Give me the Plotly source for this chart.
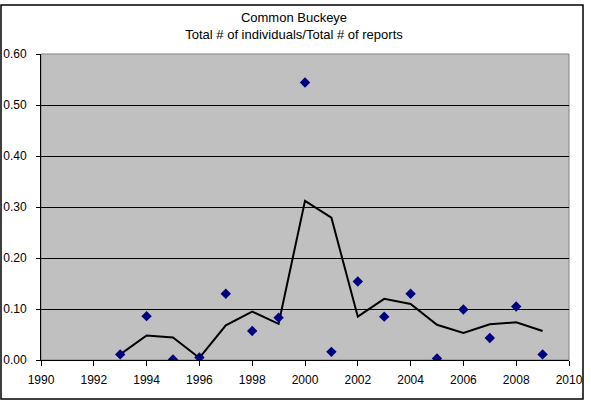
import plotly.graph_objects as go

# values
years = [1993, 1994, 1995, 1996, 1997, 1998, 1999, 2000, 2001,
         2002, 2003, 2004, 2005, 2006, 2007, 2008, 2009]
ratio = [0.011, 0.086, 0.001, 0.005, 0.130, 0.057, 0.083, 0.544, 0.016,
         0.154, 0.085, 0.130, 0.003, 0.099, 0.043, 0.105, 0.011]
trend = [0.011, 0.048, 0.044, 0.004, 0.068, 0.095, 0.071, 0.312, 0.279,
         0.085, 0.120, 0.110, 0.069, 0.053, 0.070, 0.074, 0.057]

x_ticks = list(range(1990, 2011, 2))
y_ticks = [0.0, 0.1, 0.2, 0.3, 0.4, 0.5, 0.6]

font = 'Liberation Sans, Arial, sans-serif'

fig = go.Figure()
fig.add_trace(go.Scatter(x=years, y=trend, mode='lines',
                         line={'color': 'black', 'width': 2},
                         showlegend=False, hoverinfo='skip'))
fig.add_trace(go.Scatter(x=years, y=ratio, mode='markers',
                         marker={'symbol': 'diamond', 'size': 8, 'color': '#000080'},
                         showlegend=False))

# plot area is 528 x 306 px
pw, ph = 528, 306
fig.update_layout(
    width=591, height=407,
    margin={'l': 41, 'r': 22, 't': 54, 'b': 47, 'autoexpand': False},
    paper_bgcolor='white', plot_bgcolor='#C0C0C0',
    font={'family': font, 'size': 12, 'color': 'black'},
    title={'text': 'Common Buckeye<br>Total # of individuals/Total # of reports',
           'x': 294 / 591, 'xanchor': 'center',
           'y': 1 - 22 / 407, 'yanchor': 'top', 'automargin': False,
           'font': {'family': font, 'size': 13}},
    xaxis={'range': [1990, 2010], 'tickvals': x_ticks, 'showgrid': False,
           'zeroline': False, 'showline': True, 'linecolor': 'black', 'linewidth': 1,
           'ticks': 'outside', 'ticklen': 5, 'tickcolor': 'black',
           'ticklabelstandoff': 4, 'automargin': False},
    yaxis={'range': [0, 0.6], 'tickvals': y_ticks, 'tickformat': '.2f',
           'showgrid': True, 'gridcolor': 'black', 'gridwidth': 1,
           'zeroline': False, 'showline': True, 'linecolor': 'black', 'linewidth': 1,
           'ticks': 'outside', 'ticklen': 4, 'tickcolor': 'black',
           'ticklabelstandoff': 7, 'automargin': False},
    shapes=[
        # gray plot-area frame
        {'type': 'rect', 'xref': 'paper', 'yref': 'paper', 'x0': 0, 'x1': 1,
         'y0': 0, 'y1': 1, 'line': {'color': '#808080', 'width': 1}, 'layer': 'below'},
        # black chart-area frame
        {'type': 'rect', 'xref': 'paper', 'yref': 'paper',
         'x0': (1 - 41) / pw, 'x1': (583 - 41) / pw,
         'y0': (360 - 399) / ph, 'y1': (360 - 5) / ph,
         'line': {'color': 'black', 'width': 1.5}},
    ],
)

# drop the page's default body margin so the figure sits at the window corner
fig.write_html('out.html', config={'displayModeBar': False},
               post_script="document.body.style.margin='0';")
